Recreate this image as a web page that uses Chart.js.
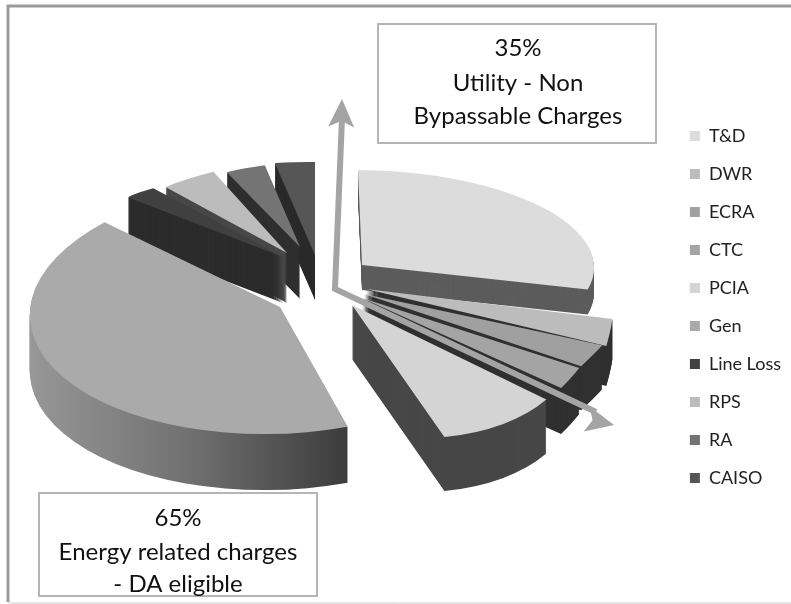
<!DOCTYPE html>
<html>
<head>
<meta charset="utf-8">
<style>
html, body { margin: 0; padding: 0; background: #fff; }
#wrap { position: relative; width: 791px; height: 604px; }
</style>
<script src="https://cdn.jsdelivr.net/npm/chart.js@4/dist/chart.umd.min.js"></script>
</head>
<body>
<div id="wrap"><canvas id="pie" width="791" height="604"></canvas></div>
<script>
// values, in percent
const categories = ['T&D', 'DWR', 'ECRA', 'CTC', 'PCIA', 'Gen', 'Line Loss', 'RPS', 'RA', 'CAISO'];
const shares = [29, 2, 2, 2, 10, 42, 3, 4, 3, 3];

const faceColors = ['#dcdcdc', '#bcbcbc', '#a0a0a0', '#a4a4a4', '#d4d4d4', '#aaaaaa', '#404040', '#bcbcbc', '#747474', '#565656'];
const sideColors = ['#5c5c5c', '#303030', '#303030', '#303030', '#474747', '#666666', '#2c2c2c', '#484848', '#2e2e2e', '#2a2a2a'];

// the picture is a tilted 3D pie, so each exploded slice gets its own view:
// [apexX, apexY, a, b, c, d, depth] with x' = a*ux + b*uy, y' = c*ux + d*uy
const sliceViews = [
    [362, 265, 232, 4, 1, 95, 25],
    [366, 289, 247, 29, -25, 218, 40],
    [364, 294, 278, -55, -15, 177, 44],
    [362, 298, 254, -11, -18, 178, 46],
    [352, 305, 222, 25, 21, 132, 54],
    [280, 307, 250, -10, -3, 127, 56],
    [283, 257, 196, 18, 7, 80, 46],
    [287, 253, 215, -6, -17, 94, 50],
    [300, 247, 209, -4, -14, 86, 52],
    [315, 255, 214, 0, 3, 93, 45]
];
const drawOrder = [0, 9, 8, 7, 6, 5, 1, 2, 3, 4];

const textFont = 'Lato, "Open Sans", sans-serif';
const grey = '#a4a4a4';

function drawArc(ctx, arc, view, drop, color) {
    const R = arc.outerRadius;
    const saved = arc.options;
    arc.options = Object.assign({}, saved, { backgroundColor: color });
    ctx.save();
    ctx.translate(view[0], view[1] + drop);
    ctx.transform(view[2] / R, view[4] / R, view[3] / R, view[5] / R, 0, 0);
    ctx.translate(-arc.x, -arc.y);
    arc.draw(ctx);
    ctx.restore();
    arc.options = saved;
}

const tiltedPie = {
    id: 'tiltedPie',
    beforeDatasetDraw(chart, args) {
        const ctx = chart.ctx;
        const arcs = args.meta.data;
        drawOrder.forEach(i => {
            const view = sliceViews[i];
            let side = sideColors[i];
            if (i === 5) {
                // Gen wall fades from light to dark going right
                const r = arcs[i].outerRadius;
                side = ctx.createLinearGradient(arcs[i].x - r, 0, arcs[i].x + r * 0.31, 0);
                side.addColorStop(0, '#989898');
                side.addColorStop(0.5, '#727272');
                side.addColorStop(1, '#3c3c3c');
            }
            for (let d = view[6]; d > 0; d--) drawArc(ctx, arcs[i], view, d, side);
            drawArc(ctx, arcs[i], view, 0, faceColors[i]);
        });
        return false;
    }
};

function arrowHead(ctx, x, y, angle, len, half) {
    ctx.save();
    ctx.translate(x, y);
    ctx.rotate(angle);
    ctx.beginPath();
    ctx.moveTo(0, 0);
    ctx.lineTo(-len, -half);
    ctx.lineTo(-len + 6, 0);
    ctx.lineTo(-len, half);
    ctx.closePath();
    ctx.fill();
    ctx.restore();
}

function textBox(ctx, x, y, w, h, lines, lineYs, cx) {
    ctx.strokeStyle = '#b5b5b5';
    ctx.lineWidth = 2;
    ctx.strokeRect(x, y, w, h);
    ctx.fillStyle = '#111111';
    ctx.font = '24px ' + textFont;
    ctx.textAlign = 'center';
    ctx.textBaseline = 'middle';
    lines.forEach((t, i) => ctx.fillText(t, cx, lineYs[i]));
}

const annotations = {
    id: 'annotations',
    beforeDraw(chart) {
        const ctx = chart.ctx;
        ctx.save();
        ctx.strokeStyle = '#9b9b9b';
        ctx.lineWidth = 3;
        ctx.beginPath();
        ctx.moveTo(791, 6);
        ctx.lineTo(8, 6);
        ctx.lineTo(8, 602);
        ctx.stroke();
        ctx.strokeStyle = '#cccccc';
        ctx.lineWidth = 1;
        ctx.beginPath();
        ctx.moveTo(8, 603);
        ctx.lineTo(791, 603);
        ctx.stroke();
        ctx.restore();
    },
    afterDatasetsDraw(chart) {
        const ctx = chart.ctx;
        ctx.save();
        ctx.strokeStyle = grey;
        ctx.fillStyle = grey;
        ctx.lineWidth = 6;
        ctx.beginPath();
        ctx.moveTo(342, 118);
        ctx.lineTo(335, 289);
        ctx.lineTo(596, 412);
        ctx.stroke();
        arrowHead(ctx, 342, 99, -Math.PI / 2 + 0.03, 28, 13);
        arrowHead(ctx, 614, 425, 0.22, 28, 13);

        textBox(ctx, 378, 24, 278, 119, ['35%', 'Utility - Non', 'Bypassable Charges'], [48, 83, 116], 518);
        textBox(ctx, 39, 493, 278, 103, ['65%', 'Energy related charges', '- DA eligible'], [518, 552, 584], 178);
        ctx.restore();
    }
};

new Chart(document.getElementById('pie'), {
    type: 'pie',
    data: {
        labels: categories,
        datasets: [{
            data: shares,
            backgroundColor: faceColors,
            borderWidth: 0
        }]
    },
    options: {
        responsive: false,
        animation: false,
        layout: { padding: { top: 10, right: 0, bottom: 0, left: 0 } },
        plugins: {
            tooltip: { enabled: false },
            legend: {
                position: 'right',
                align: 'center',
                labels: {
                    boxWidth: 10,
                    boxHeight: 10,
                    padding: 20,
                    color: '#222222',
                    font: { family: textFont, size: 18 }
                }
            }
        }
    },
    plugins: [tiltedPie, annotations]
});
</script>
</body>
</html>
